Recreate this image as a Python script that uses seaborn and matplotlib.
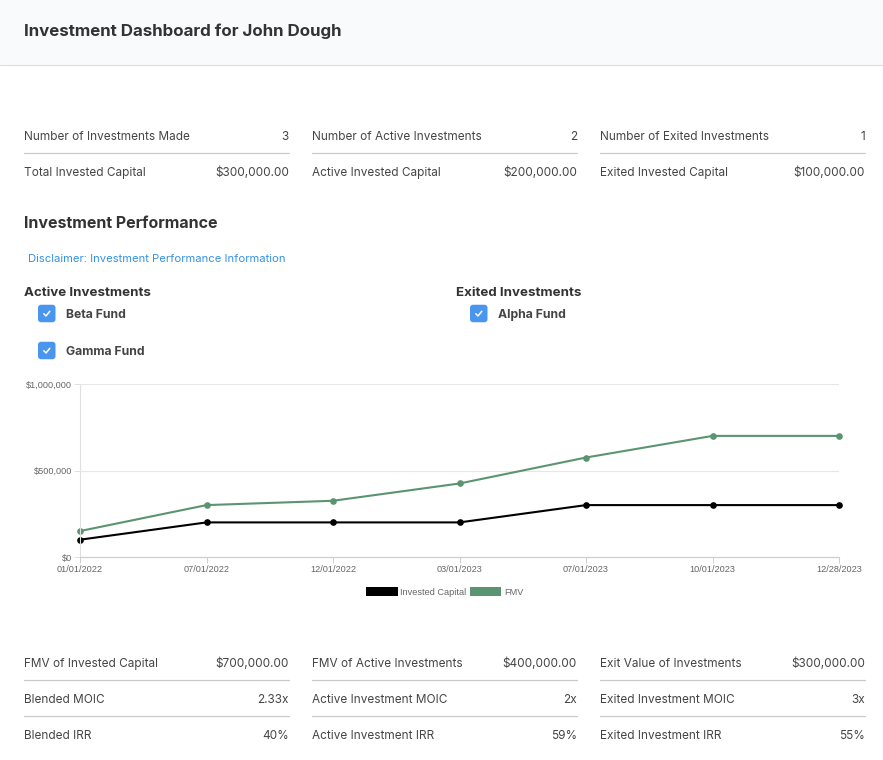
import matplotlib
matplotlib.use("Agg")
import matplotlib.pyplot as plt
from matplotlib.patches import FancyBboxPatch, Rectangle, Patch
import seaborn as sns
import pandas as pd

# ---------------- data ----------------
dates = ["01/01/2022", "07/01/2022", "12/01/2022", "03/01/2023",
         "07/01/2023", "10/01/2023", "12/28/2023"]
invested_capital = [100000, 200000, 200000, 200000, 300000, 300000, 300000]
fmv = [150000, 300000, 325000, 425000, 575000, 700000, 700000]
series_names = ["Invested Capital", "FMV"]
series_colors = ["#000000", "#5b9471"]
y_ticks = [0, 500000, 1000000]
y_tick_labels = ["$0", "$500,000", "$1,000,000"]

top_labels = [["Number of Investments Made", "Number of Active Investments", "Number of Exited Investments"],
              ["Total Invested Capital", "Active Invested Capital", "Exited Invested Capital"]]
top_values = [["3", "2", "1"],
              ["$300,000.00", "$200,000.00", "$100,000.00"]]
bottom_labels = [["FMV of Invested Capital", "FMV of Active Investments", "Exit Value of Investments"],
                 ["Blended MOIC", "Active Investment MOIC", "Exited Investment MOIC"],
                 ["Blended IRR", "Active Investment IRR", "Exited Investment IRR"]]
bottom_values = [["$700,000.00", "$400,000.00", "$300,000.00"],
                 ["2.33x", "2x", "3x"],
                 ["40%", "59%", "55%"]]
active_funds = ["Beta Fund", "Gamma Fund"]
exited_funds = ["Alpha Fund"]

df = pd.DataFrame({
    "date": dates * 2,
    "value": invested_capital + fmv,
    "series": [series_names[0]] * len(dates) + [series_names[1]] * len(dates),
})

# ---------------- figure ----------------
sns.set_theme(style="white")
plt.rcParams["font.family"] = ["Inter", "DejaVu Sans"]
W, H = 883, 760
fig = plt.figure(figsize=(W / 100, H / 100), dpi=100)
fig.patch.set_facecolor("white")

# overlay in pixel coordinates
ov = fig.add_axes([0, 0, 1, 1])
ov.set_xlim(0, W)
ov.set_ylim(H, 0)
ov.axis("off")

TXT = "#454545"
LINE = "#c9c9c9"
DY = 1.5  # visual centring offset for text

# header
ov.add_patch(Rectangle((0, 0), W, 65, facecolor="#f9fafc", edgecolor="none"))
ov.plot([0, W], [65, 65], color="#dedede", lw=0.8)
ov.text(24, 30 + DY, "Investment Dashboard for John Dough", fontsize=12.2, fontweight="bold",
        color="#333333", va="center", ha="left")

cols = [(24, 289), (312, 577), (600, 865)]


def stat_block(labels, values, y0, dy=36):
    for r, (lrow, vrow) in enumerate(zip(labels, values)):
        y = y0 + r * dy
        for (x0, x1), lab, val in zip(cols, lrow, vrow):
            ov.text(x0, y + DY, lab, fontsize=8.5, color=TXT, va="center", ha="left")
            ov.text(x1, y + DY, val, fontsize=8.5, color=TXT, va="center", ha="right")
            if r < len(labels) - 1:
                ov.plot([x0, x1], [y + 17.5, y + 17.5], color=LINE, lw=0.9)


stat_block(top_labels, top_values, 135.5)
stat_block(bottom_labels, bottom_values, 662.5)

ov.text(24, 222 + DY, "Investment Performance", fontsize=11.5, fontweight="bold",
        color="#333333", va="center", ha="left")
ov.text(28, 258 + DY, "Disclaimer: Investment Performance Information", fontsize=8.1,
        color="#3592e6", va="center", ha="left")

ov.text(24, 291 + DY, "Active Investments", fontsize=9.6, fontweight="bold",
        color="#333333", va="center", ha="left")
ov.text(456, 291 + DY, "Exited Investments", fontsize=9.6, fontweight="bold",
        color="#333333", va="center", ha="left")


def checkbox(x, y, label):
    s = 17.5
    ov.add_patch(FancyBboxPatch((x, y - s / 2), s, s, boxstyle="round,pad=0,rounding_size=3",
                                facecolor="#4a96ef", edgecolor="none"))
    ov.plot([x + 5.8, x + 8.0, x + 11.8], [y + 0.2, y + 2.5, y - 2.2], color="white",
            lw=1.1, solid_capstyle="round", solid_joinstyle="round")
    ov.text(x + 28, y + DY, label, fontsize=8.8, fontweight="bold", color="#444444",
            va="center", ha="left")


for i, f in enumerate(active_funds):
    checkbox(38, 313.5 + i * 37, f)
for i, f in enumerate(exited_funds):
    checkbox(470, 313.5 + i * 37, f)

# ---------------- chart ----------------
L, R, T, B = 80, 839, 384, 557
ax = fig.add_axes([L / W, 1 - B / H, (R - L) / W, (B - T) / H])
ax.set_facecolor("none")
sns.lineplot(data=df, x="date", y="value", hue="series", palette=series_colors,
             hue_order=series_names, marker="o", markersize=4.8, markeredgewidth=0,
             linewidth=1.5, legend=False, ax=ax, sort=False, clip_on=False)
ax.set_xlim(0, len(dates) - 1)
ax.set_ylim(0, 1000000)
ax.set_yticks(y_ticks)
ax.set_yticklabels(y_tick_labels)
ax.set_xlabel("")
ax.set_ylabel("")
ax.grid(axis="y", color="#e6e6e6", lw=0.8)
ax.set_axisbelow(True)
for s in ["top", "right"]:
    ax.spines[s].set_visible(False)
ax.spines["left"].set_color("#e0e0e0")
ax.spines["left"].set_linewidth(0.8)
ax.spines["bottom"].set_color("#cfcfcf")
ax.spines["bottom"].set_linewidth(0.9)
ax.tick_params(axis="x", length=4, width=0.7, color="#cfcfcf", labelsize=6.6,
               labelcolor="#666666", pad=2, bottom=True)
ax.tick_params(axis="y", length=4, width=0.7, color="#e0e0e0", labelsize=6.6,
               labelcolor="#666666", pad=1.5, left=True)
for lab in ax.get_xticklabels() + ax.get_yticklabels():
    lab.set_fontfamily(["Liberation Sans", "DejaVu Sans"])

handles = [Patch(facecolor=c, edgecolor="none", label=n) for n, c in zip(series_names, series_colors)]
leg = fig.legend(handles=handles, loc="center", bbox_to_anchor=(445 / W, 1 - 592 / H),
                 ncol=2, frameon=False, handlelength=3.4, handleheight=1.1,
                 handletextpad=0.3, columnspacing=0.4, labelcolor="#666666",
                 prop={"family": ["Liberation Sans", "DejaVu Sans"], "size": 6.6})

fig.savefig("out.png", dpi=100, facecolor="white")
